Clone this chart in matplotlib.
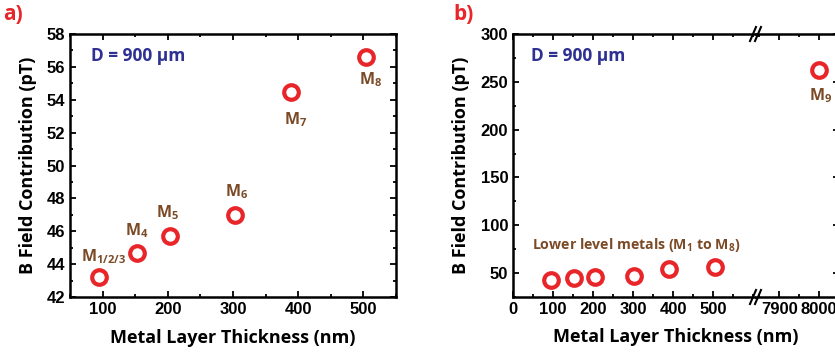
import matplotlib
matplotlib.use("Agg")
import matplotlib.pyplot as plt
from matplotlib.ticker import MultipleLocator

plt.rcParams['font.family'] = ['Liberation Sans', 'DejaVu Sans']
plt.rcParams['font.weight'] = 'bold'
plt.rcParams['mathtext.fontset'] = 'custom'
plt.rcParams['mathtext.rm'] = 'Open Sans:bold'
plt.rcParams['mathtext.bf'] = 'Open Sans:bold'
plt.rcParams['mathtext.it'] = 'Open Sans:bold'

# data
thickness = [95, 152, 204, 303, 389, 504]
b_field = [43.2, 44.7, 45.7, 47.0, 54.5, 56.6]
metal_labels = ['M$_{1/2/3}$', 'M$_4$', 'M$_5$', 'M$_6$', 'M$_7$', 'M$_8$']
label_offsets = [(3, 15), (0, 16), (-2, 17), (1, 17), (3, -20), (3, -16)]
top_thickness = [8000]
top_b_field = [262]
b_left_ticks = [0, 100, 200, 300, 400, 500]
b_right_ticks = [7900, 8000]

RED = '#e8262a'
BROWN = '#7b4a26'
BLUE = '#2e3192'
LABEL_FONT = 'Open Sans'

fig = plt.figure(figsize=(8.35, 3.53), dpi=100)
H = 353.0
W = 835.0


def rect(x0, x1, y0, y1):
    return [x0 / W, (H - y1) / H, (x1 - x0) / W, (y1 - y0) / H]


def style(ax):
    ax.tick_params(which='both', direction='in', top=True, right=True,
                   labelsize=12, width=1.3)
    ax.tick_params(which='major', length=4)
    ax.tick_params(which='minor', length=2.5)
    for s in ax.spines.values():
        s.set_linewidth(1.8)
    for t in ax.get_xticklabels() + ax.get_yticklabels():
        t.set_fontweight('bold')


marker_kw = dict(marker='o', linestyle='none', markersize=10.5,
                 markerfacecolor='white', markeredgecolor=RED,
                 markeredgewidth=3.0, zorder=3)

# ---- panel a ----
ax_a = fig.add_axes(rect(70, 396, 34, 297))
ax_a.plot(thickness, b_field, **marker_kw)
ax_a.set_xlim(50, 550)
ax_a.set_ylim(42, 58)
ax_a.xaxis.set_major_locator(MultipleLocator(100))
ax_a.xaxis.set_minor_locator(MultipleLocator(50))
ax_a.yaxis.set_major_locator(MultipleLocator(2))
ax_a.yaxis.set_minor_locator(MultipleLocator(1))
style(ax_a)
for x, y, lab, off in zip(thickness, b_field, metal_labels, label_offsets):
    ax_a.annotate(lab, (x, y), xytext=off, textcoords='offset points',
                  ha='center', va='center', color=BROWN, fontsize=11.5,
                  fontweight='bold', family=LABEL_FONT)
ax_a.text(0.064, 0.915, 'D = 900 µm', transform=ax_a.transAxes, color=BLUE,
          fontsize=12.5, fontweight='bold', family=LABEL_FONT, va='center')
ax_a.set_xlabel('Metal Layer Thickness (nm)', fontsize=13,
                fontweight='bold', family=LABEL_FONT)
ax_a.xaxis.set_label_coords(0.5, -0.12)
ax_a.set_ylabel('B Field Contribution (pT)', fontsize=13,
                fontweight='bold', family=LABEL_FONT)
ax_a.yaxis.set_label_coords(-0.1, 0.5)

# ---- panel b (broken x axis) ----
ax_b1 = fig.add_axes(rect(513, 756, 34, 297))
ax_b2 = fig.add_axes(rect(756, 839, 34, 297))
for ax in (ax_b1, ax_b2):
    ax.plot(thickness, b_field, **marker_kw)
    ax.plot(top_thickness, top_b_field, **marker_kw)
    ax.set_ylim(25, 300)
    ax.yaxis.set_major_locator(MultipleLocator(50))
    ax.yaxis.set_minor_locator(MultipleLocator(25))
    ax.xaxis.set_minor_locator(MultipleLocator(50))
ax_b1.set_xticks(b_left_ticks)
ax_b2.set_xticks(b_right_ticks)
for ax in (ax_b1, ax_b2):
    style(ax)
ax_b1.set_xlim(0, 607)
ax_b2.set_xlim(7842, 8050)
ax_b1.spines['right'].set_visible(False)
ax_b2.spines['left'].set_visible(False)
ax_b1.tick_params(which='both', right=False)
ax_b2.tick_params(which='both', left=False, labelleft=False)

ax_b2.annotate('M$_9$', (top_thickness[0], top_b_field[0]), xytext=(1, -18),
               textcoords='offset points', ha='center', va='center',
               color=BROWN, fontsize=11.5, fontweight='bold', family=LABEL_FONT)
ax_b1.text(307, 79, 'Lower level metals (M$_1$ to M$_8$)', ha='center',
           va='center', color=BROWN, fontsize=10.2, fontweight='bold',
           family=LABEL_FONT)
ax_b1.text(0.074, 0.915, 'D = 900 µm', transform=ax_b1.transAxes, color=BLUE,
           fontsize=12.5, fontweight='bold', family=LABEL_FONT, va='center')
ax_b1.set_ylabel('B Field Contribution (pT)', fontsize=13,
                 fontweight='bold', family=LABEL_FONT)
ax_b1.yaxis.set_label_coords(-0.177, 0.5)
fig.text(676 / W, 1 - 337 / H, 'Metal Layer Thickness (nm)', ha='center',
         va='center', fontsize=13, fontweight='bold', family=LABEL_FONT)

# break marks
for yb in (34, 297):
    yf = 1 - yb / H
    for dx in (-3, 2):
        x0 = (756 + dx - 3) / W
        x1 = (756 + dx + 3) / W
        fig.add_artist(plt.Line2D([x0, x1], [yf - 7 / H, yf + 7 / H],
                                  color='black', lw=1.5))

# panel tags
fig.text(3 / W, 1 - 14 / H, 'a)', color=RED, fontsize=15, fontweight='bold',
         family=LABEL_FONT, va='center')
fig.text(453 / W, 1 - 14 / H, 'b)', color=RED, fontsize=15, fontweight='bold',
         family=LABEL_FONT, va='center')

fig.savefig('out.png', dpi=100)
